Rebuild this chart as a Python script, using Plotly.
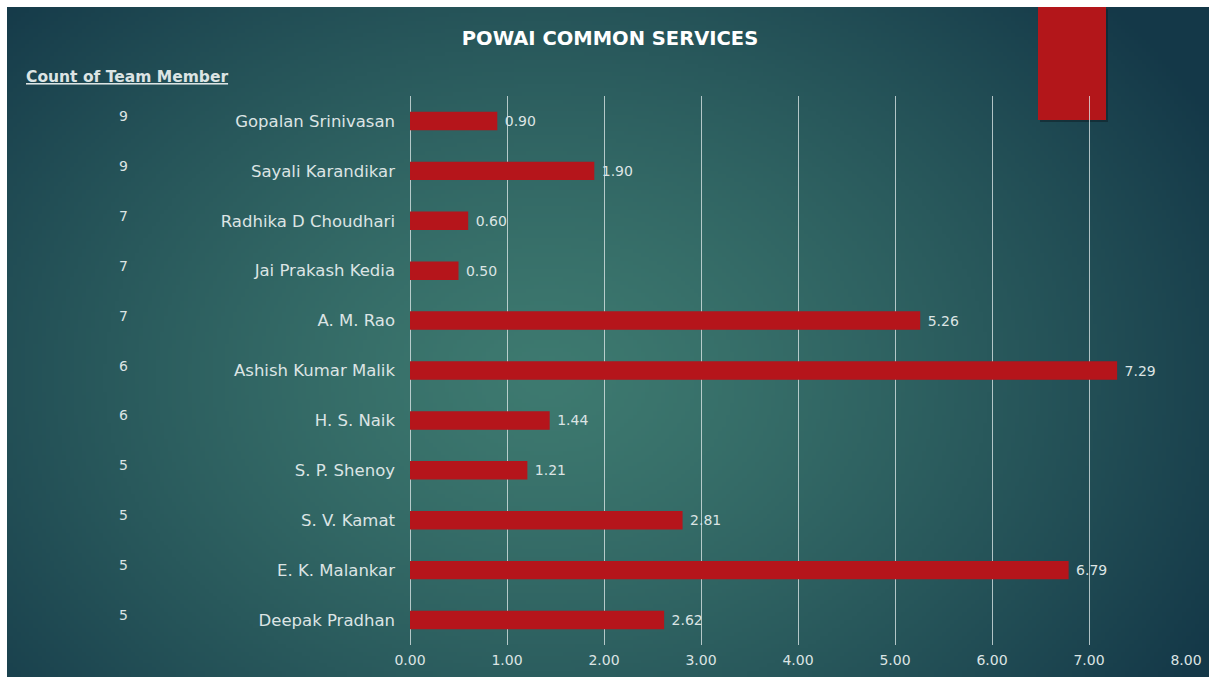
import base64
import struct
import zlib

import numpy as np
import plotly.graph_objects as go

# ---- data -------------------------------------------------------------
members = [
    "Gopalan Srinivasan", "Sayali Karandikar", "Radhika D Choudhari",
    "Jai Prakash Kedia", "A. M. Rao", "Ashish Kumar Malik", "H. S. Naik",
    "S. P. Shenoy", "S. V. Kamat", "E. K. Malankar", "Deepak Pradhan",
]
scores = [0.90, 1.90, 0.60, 0.50, 5.26, 7.29, 1.44, 1.21, 2.81, 6.79, 2.62]
team_counts = [9, 9, 7, 7, 7, 6, 6, 5, 5, 5, 5]
x_ticks = [0, 1, 2, 3, 4, 5, 6, 7, 8]

W, H = 1209, 679
PL, PR, PT, PB = 410, 1186, 96, 645   # plot-area edges in pixels
FONT = "DejaVu Sans"
TEXT = "#dce4e4"
BAR = "#b5151b"


def px(x):
    """pixel column -> paper x"""
    return (x - PL) / (PR - PL)


def py(y):
    """pixel row -> paper y"""
    return 1 - (y - PT) / (PB - PT)


# ---- background: soft radial teal gradient encoded as a PNG -----------
def gradient_png(w=300, h=170):
    yy, xx = np.mgrid[0:h, 0:w]
    cx, cy = 0.44 * w, 0.55 * h
    d = np.sqrt(((xx - cx) / (0.62 * w)) ** 2 + ((yy - cy) / (0.85 * h)) ** 2)
    t = np.clip(d, 0, 1) ** 1.3
    inner = np.array([62, 122, 112], dtype=float)
    outer = np.array([20, 56, 72], dtype=float)
    img = inner[None, None, :] * (1 - t[..., None]) + outer[None, None, :] * t[..., None]
    img = img.astype(np.uint8)
    raw = b"".join(b"\x00" + img[r].tobytes() for r in range(h))

    def chunk(tag, data):
        c = struct.pack(">I", len(data)) + tag + data
        return c + struct.pack(">I", zlib.crc32(tag + data) & 0xFFFFFFFF)

    png = b"\x89PNG\r\n\x1a\n"
    png += chunk(b"IHDR", struct.pack(">IIBBBBB", w, h, 8, 2, 0, 0, 0))
    png += chunk(b"IDAT", zlib.compress(raw, 9))
    png += chunk(b"IEND", b"")
    return "data:image/png;base64," + base64.b64encode(png).decode()


fig = go.Figure()

fig.add_trace(go.Bar(
    x=scores,
    y=members,
    orientation="h",
    width=0.37,
    marker=dict(color=BAR, line=dict(width=0)),
    text=[f" {v:.2f}" for v in scores],
    textposition="outside",
    textfont=dict(family=FONT, size=14, color=TEXT),
    cliponaxis=False,
    hoverinfo="skip",
))

# team-member counts in the left-hand column
for name, cnt in zip(members, team_counts):
    fig.add_annotation(
        x=px(123), xref="paper", y=name, yref="y", yshift=5,
        xanchor="center", showarrow=False,
        text=str(cnt),
        font=dict(family=FONT, size=14, color=TEXT),
    )

fig.add_annotation(
    x=px(24), y=py(77), xref="paper", yref="paper", showarrow=False,
    xanchor="left", yanchor="middle",
    text="<b><u>Count of Team Member</u></b>",
    font=dict(family=FONT, size=15.5, color=TEXT),
)

fig.update_layout(
    width=W, height=H,
    autosize=False,
    margin=dict(l=PL, r=W - PR, t=PT, b=H - PB, autoexpand=False),
    paper_bgcolor="white",
    plot_bgcolor="rgba(0,0,0,0)",
    showlegend=False,
    title=dict(
        text="<b>POWAI COMMON SERVICES</b>",
        x=610 / W, xanchor="center", y=1 - 38 / H, yanchor="middle",
        font=dict(family=FONT, size=19.5, color="#ffffff"),
    ),
    xaxis=dict(
        range=[0, 8],
        automargin=False,
        tickvals=x_ticks,
        ticktext=[f"{v:.2f}" for v in x_ticks],
        showgrid=True, gridcolor="rgba(225,235,235,0.75)", gridwidth=1,
        zeroline=True, zerolinecolor="rgba(225,235,235,0.75)", zerolinewidth=1,
        showline=False, ticks="",
        tickfont=dict(family=FONT, size=14, color=TEXT),
        ticklabelstandoff=5,
        fixedrange=True,
    ),
    yaxis=dict(
        categoryorder="array", categoryarray=members[::-1],
        automargin=False,
        showgrid=False, zeroline=False, showline=False, ticks="",
        tickfont=dict(family=FONT, size=16.5, color=TEXT),
        ticklabelstandoff=14,
        fixedrange=True,
    ),
    images=[dict(
        source=gradient_png(),
        xref="paper", yref="paper",
        x=px(7), y=py(7),
        sizex=px(W + 20) - px(7), sizey=py(7) - py(677),
        xanchor="left", yanchor="top",
        sizing="stretch", layer="below",
    )],
    shapes=[
        # decorative red tab hanging from the top edge
        dict(
            type="rect", xref="paper", yref="paper",
            x0=px(1040), x1=px(1108), y0=py(122), y1=py(9),
            fillcolor="rgba(10,25,30,0.45)", line=dict(width=0), layer="below",
        ),
        dict(
            type="rect", xref="paper", yref="paper",
            x0=px(1038), x1=px(1106), y0=py(120), y1=py(7),
            fillcolor="#b3161a", line=dict(width=0), layer="below",
        ),
    ],
)

fig.write_html("out.html")
